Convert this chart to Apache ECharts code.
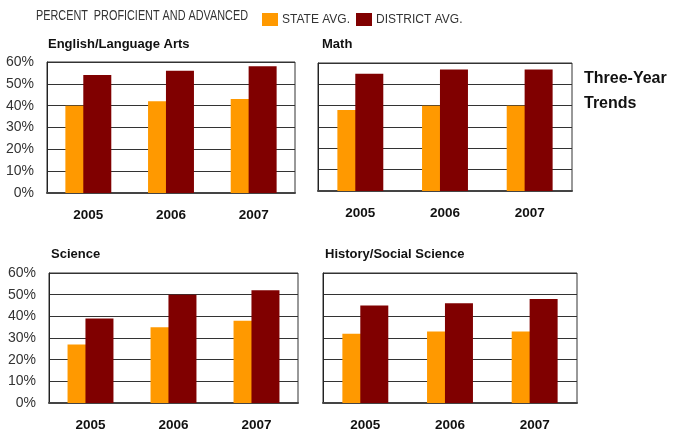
<!DOCTYPE html>
<html><head><meta charset="utf-8">
<script src="https://cdn.jsdelivr.net/npm/echarts@6/dist/echarts.min.js"></script>
<style>html,body{margin:0;padding:0;background:#fff}#c{width:683px;height:434px}</style>
</head><body><div id="c"></div>
<script>
const years = ['2005', '2006', '2007'];
const subjects = ['English/Language Arts', 'Math', 'Science', 'History/Social Science'];
const elaState = [40, 42, 43];
const elaDistrict = [54, 56, 58];
const mathState = [38, 40, 40];
const mathDistrict = [55, 57, 57];
const sciState = [27, 35, 38];
const sciDistrict = [39, 50, 52];
const histState = [32, 33, 33];
const histDistrict = [45, 46, 48];
const yMin = 0, yMax = 60, yStep = 10;
const seriesNames = ['STATE AVG.', 'DISTRICT AVG.'];
const headline = 'PERCENT  PROFICIENT AND ADVANCED';
const sideNote = 'Three-Year\nTrends';

const stateData = [elaState, mathState, sciState, histState];
const districtData = [elaDistrict, mathDistrict, sciDistrict, histDistrict];
const grids = [
  {left: 47, top: 62, width: 248, height: 131},
  {left: 318, top: 63, width: 254, height: 128},
  {left: 49, top: 273, width: 249, height: 130},
  {left: 323, top: 273, width: 254, height: 130}
];
const titlePos = [[48, 38], [322, 38], [51, 248], [325, 248]];
const showY = [true, false, true, false];
const COL_STATE = '#FF9900', COL_DIST = '#800000';

const option = {
  animation: false,
  backgroundColor: '#fff',
  textStyle: {fontFamily: 'Liberation Sans, Arial, sans-serif'},
  legend: {
    data: seriesNames, left: 257, top: 8, icon: 'rect', itemWidth: 16, itemHeight: 13, itemGap: 6,
    selectedMode: false,
    textStyle: {fontFamily: 'Liberation Sans, Arial, sans-serif', fontSize: 12, color: '#333', padding: [1,0,0,-1]}
  },
  title: subjects.map((s, i) => ({
    text: s, left: titlePos[i][0], top: titlePos[i][1], padding: 0,
    textStyle: {fontSize: 13, fontWeight: 'bold', color: '#111', fontFamily: 'Liberation Sans, Arial, sans-serif'}
  })),
  graphic: [
    {type: 'text', x: 36, y: 9, scaleX: 0.775, style: {text: headline, fontSize: 14, fill: '#333', fontFamily: 'Liberation Sans, Arial, sans-serif'}},
    {type: 'text', left: 584, top: 66, style: {text: sideNote, fontSize: 16, fontWeight: 'bold', fill: '#111', lineHeight: 25, fontFamily: 'Liberation Sans, Arial, sans-serif'}}
  ],
  grid: grids.map(g => Object.assign({show: true, borderColor: '#333', borderWidth: 1, backgroundColor: 'transparent'}, g)),
  xAxis: grids.map((g, i) => ({
    type: 'category', gridIndex: i, data: years,
    axisTick: {show: false},
    axisLine: {show: true, lineStyle: {color: '#444', width: 2}},
    axisLabel: {margin: 15, fontSize: 13.5, fontWeight: 'bold', color: '#111'}
  })),
  yAxis: grids.map((g, i) => ({
    type: 'value', gridIndex: i, min: yMin, max: yMax, interval: yStep,
    axisLine: {show: true, lineStyle: {color: '#222', width: 1}},
    axisTick: {show: false},
    splitLine: {show: true, lineStyle: {color: '#333', width: 1}},
    axisLabel: {show: showY[i], formatter: '{value}%', fontSize: 14, color: '#333', margin: 13}
  })),
  series: []
};
for (let i = 0; i < 4; i++) {
  option.series.push({
    name: seriesNames[0], type: 'bar', xAxisIndex: i, yAxisIndex: i, data: stateData[i],
    barWidth: 28, barGap: '-36%', itemStyle: {color: COL_STATE}
  });
  option.series.push({
    name: seriesNames[1], type: 'bar', xAxisIndex: i, yAxisIndex: i, data: districtData[i],
    barWidth: 28, barGap: '-36%', itemStyle: {color: COL_DIST}
  });
}
const chart = echarts.init(document.getElementById('c'), null, {renderer: 'canvas'});
chart.setOption(option);
</script></body></html>
